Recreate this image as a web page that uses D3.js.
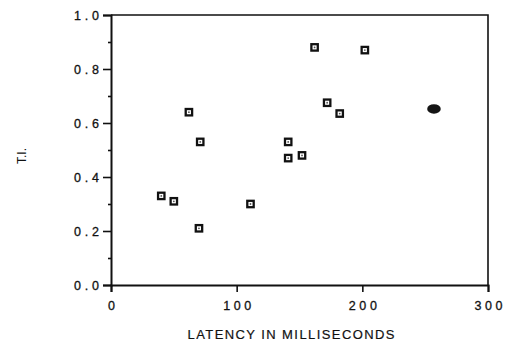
<!DOCTYPE html>
<html>
<head>
<meta charset="utf-8">
<script src="https://cdn.jsdelivr.net/npm/d3@7"></script>
<style>
  html, body { margin: 0; padding: 0; background: #fff; }
  svg { display: block; }
  text { font-family: "Liberation Sans", Arial, sans-serif; fill: #111; }
</style>
</head>
<body>
<svg id="chart" width="507" height="348"></svg>
<script>
// Individual subjects: response latency (ms) vs. T.I.
const latency = [40, 50, 62, 71, 70, 111, 141, 141, 152, 162, 172, 182, 202];
const ti      = [0.33, 0.31, 0.64, 0.53, 0.21, 0.30, 0.53, 0.47, 0.48, 0.88, 0.675, 0.635, 0.87];

// Group mean, drawn as a filled blob
const meanLatency = [257];
const meanTI = [0.652];

const xTicks = [0, 100, 200, 300];
const yTicks = [0.0, 0.2, 0.4, 0.6, 0.8, 1.0];
const yMinor = [0.1, 0.3, 0.5, 0.7, 0.9];

const svg = d3.select("#chart");
const x = d3.scaleLinear().domain([0, 300]).range([111, 488]);
const y = d3.scaleLinear().domain([0, 1]).range([285, 15]);

// frame (top and right edges)
svg.append("path")
  .attr("d", `M${x(0)},${y(1)}H${x(300)}V${y(0)}`)
  .attr("fill", "none").attr("stroke", "#111").attr("stroke-width", 1.6);

// y axis
svg.append("g").attr("class", "yaxis").attr("transform", `translate(${x(0)},0)`)
  .call(d3.axisLeft(y).tickValues(yTicks).tickFormat(d3.format(".1f")).tickSize(8).tickPadding(4));
svg.append("g").attr("transform", `translate(${x(0)},0)`)
  .call(d3.axisLeft(y).tickValues(yMinor).tickFormat("").tickSize(3))
  .select(".domain").remove();

// x axis
svg.append("g").attr("class", "xaxis").attr("transform", `translate(0,${y(0)})`)
  .call(d3.axisBottom(x).tickValues(xTicks).tickFormat(d3.format("d")).tickSize(7).tickPadding(9));

svg.selectAll(".domain").attr("stroke", "#111").attr("stroke-width", 2);
svg.selectAll(".tick line").attr("stroke", "#111").attr("stroke-width", 1.6);
svg.selectAll(".tick text")
  .attr("font-size", 12.5)
  .attr("fill", "#111")
  .attr("stroke", "#111").attr("stroke-width", 0.3)
  .style("font-family", "'Liberation Sans', Arial, sans-serif");
svg.selectAll(".yaxis .tick text").attr("textLength", 25).attr("lengthAdjust", "spacing");
svg.selectAll(".xaxis .tick text").each(function() {
  const t = d3.select(this);
  if (t.text().length > 1) t.attr("textLength", 28).attr("lengthAdjust", "spacing");
});

// axis titles
svg.append("text")
  .attr("x", 291).attr("y", 338.5)
  .attr("text-anchor", "middle")
  .attr("font-size", 13)
  .attr("stroke", "#111").attr("stroke-width", 0.2)
  .attr("textLength", 207).attr("lengthAdjust", "spacing")
  .text("LATENCY IN MILLISECONDS");

svg.append("text")
  .attr("transform", "translate(26,156) rotate(-90)")
  .attr("text-anchor", "middle")
  .attr("font-size", 12)
  .text("T.I.");

// subject markers: open squares with a centre dot
const pts = latency.map((d, i) => ({ lat: d, ti: ti[i] }));
const g = svg.append("g");
g.selectAll("rect").data(pts).join("rect")
  .attr("x", d => x(d.lat) - 3.2)
  .attr("y", d => y(d.ti) - 3.2)
  .attr("width", 6.4).attr("height", 6.4)
  .attr("fill", "#fff").attr("stroke", "#111").attr("stroke-width", 2.3);
g.selectAll("circle").data(pts).join("circle")
  .attr("cx", d => x(d.lat)).attr("cy", d => y(d.ti))
  .attr("r", 0.9).attr("fill", "#555");

// mean marker
svg.selectAll("ellipse").data(meanLatency.map((d, i) => ({ lat: d, ti: meanTI[i] }))).join("ellipse")
  .attr("cx", d => x(d.lat)).attr("cy", d => y(d.ti))
  .attr("rx", 6.8).attr("ry", 4.8)
  .attr("fill", "#151515");
</script>
</body>
</html>
